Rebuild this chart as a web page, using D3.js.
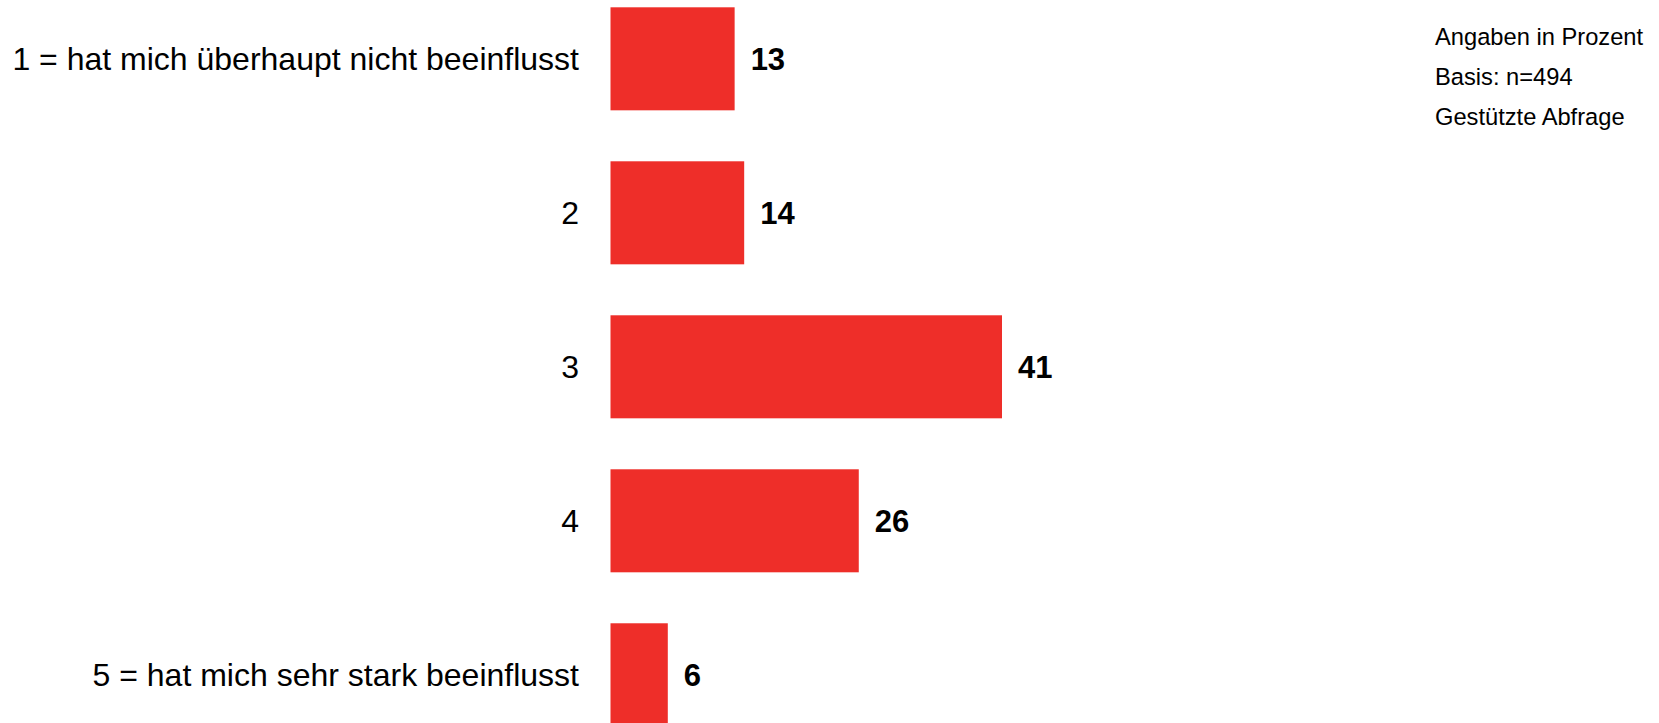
<!DOCTYPE html>
<html>
<head>
<meta charset="utf-8">
<script src="https://cdn.jsdelivr.net/npm/d3@7"></script>
<style>
html,body{margin:0;padding:0;background:#fff;overflow:hidden;}
svg{display:block;font-family:"Liberation Sans",Arial,sans-serif;}
</style>
</head>
<body>
<svg id="chart" width="1659" height="723"></svg>
<script>
const categories = [
  "1 = hat mich überhaupt nicht beeinflusst",
  "2",
  "3",
  "4",
  "5 = hat mich sehr stark beeinflusst"
];
const values = [13, 14, 41, 26, 6];
const notes = ["Angaben in Prozent", "Basis: n=494", "Gestützte Abfrage"];

const svg = d3.select("#chart");

const x = d3.scaleLinear().domain([0, 41]).range([610.5, 1002]);
const y = d3.scaleBand().domain(categories).range([7.3, 726.3])
  .paddingInner(0.331).paddingOuter(0);

svg.append("g").selectAll("rect").data(values).join("rect")
  .attr("x", x(0))
  .attr("y", (d, i) => y(categories[i]))
  .attr("width", d => x(d) - x(0))
  .attr("height", y.bandwidth())
  .attr("fill", "#ee2e29");

svg.append("g").selectAll("text").data(categories).join("text")
  .attr("x", 579)
  .attr("y", d => y(d) + y.bandwidth() / 2 + 11.5)
  .attr("text-anchor", "end")
  .attr("font-size", 32)
  .attr("fill", "#000")
  .text(d => d);

svg.append("g").selectAll("text").data(values).join("text")
  .attr("x", d => x(d) + 16)
  .attr("y", (d, i) => y(categories[i]) + y.bandwidth() / 2 + 11.5)
  .attr("font-size", 31)
  .attr("font-weight", "bold")
  .attr("fill", "#000")
  .text(d => d);

svg.append("g").selectAll("text").data(notes).join("text")
  .attr("x", 1435)
  .attr("y", (d, i) => 44.5 + i * 40)
  .attr("font-size", 23.7)
  .attr("fill", "#000")
  .text(d => d);
</script>
</body>
</html>
